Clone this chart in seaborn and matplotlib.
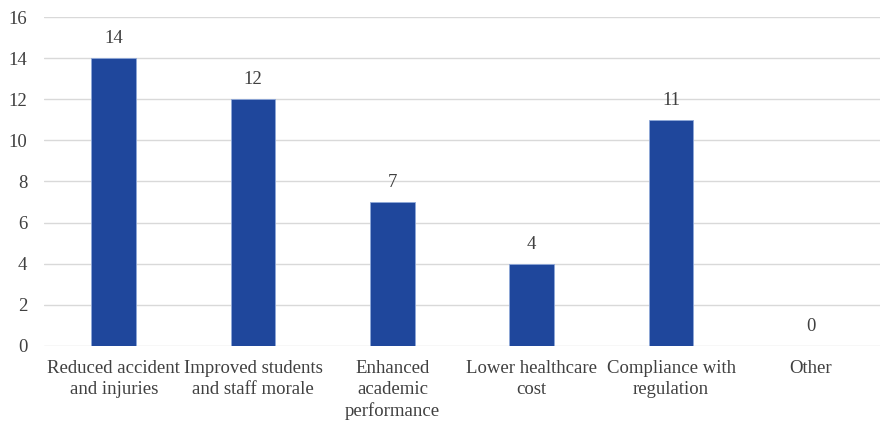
import numpy as np
import pandas as pd
from matplotlib import pyplot as plt
import seaborn as sns

categories = ['Reduced accident\nand injuries', 'Improved students\nand staff morale',
              'Enhanced\nacademic\nperformance', 'Lower healthcare\ncost',
              'Compliance with\nregulation', 'Other']
counts = [14, 12, 7, 4, 11, 0]

df = pd.DataFrame({'category': categories, 'count': counts})

sns.set_style('white')
plt.rcParams['font.family'] = ['Liberation Serif', 'DejaVu Serif']

fig = plt.figure(figsize=(8.81, 4.26), dpi=100)
ax = fig.add_axes([0.05, 0.188, 0.949, 0.772])

sns.barplot(data=df, x='category', y='count', color='#1F479C', width=0.32,
            saturation=1, edgecolor='#8fa8d8', linewidth=0.6, ax=ax, zorder=3)

ax.set_ylim(0, 16)
ax.set_yticks(np.arange(0, 17, 2))
ax.set_xlim(-0.5, len(categories) - 0.5)
ax.grid(True, axis='y', color='#d9d9d9', linewidth=1, zorder=0)
for s in ax.spines.values():
    s.set_visible(False)
ax.set_xlabel('')
ax.set_ylabel('')
ax.tick_params(axis='both', length=0, labelsize=13.5, colors='#404040')
ax.tick_params(axis='x', pad=10)
ax.tick_params(axis='y', pad=12)
for lbl in ax.get_xticklabels():
    lbl.set_linespacing(1.3)

for i, v in enumerate(counts):
    ax.annotate(str(v), (i, v), xytext=(0, 8), textcoords='offset points',
                ha='center', va='bottom', fontsize=13.5, color='#404040')

fig.savefig('out.png', dpi=100)
